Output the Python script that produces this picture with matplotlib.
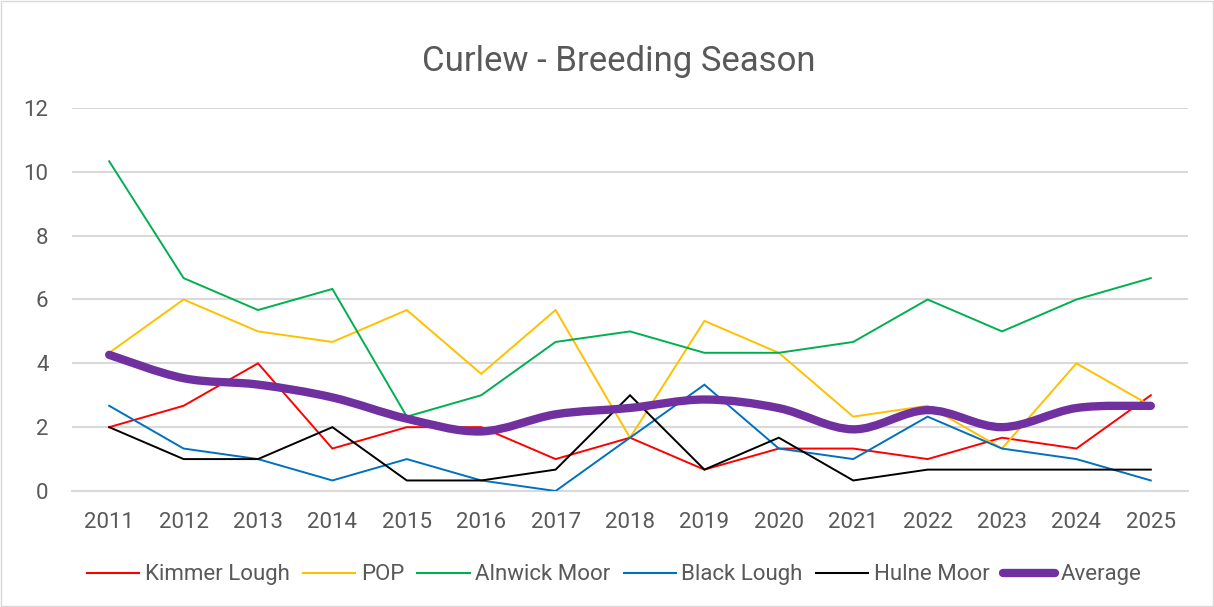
import numpy as np
import matplotlib
matplotlib.use('Agg')
import matplotlib.pyplot as plt
from matplotlib.path import Path
from matplotlib.patches import PathPatch
from matplotlib.lines import Line2D

plt.rcParams['font.family'] = ['Roboto', 'DejaVu Sans']

# Data
years = ['2011', '2012', '2013', '2014', '2015', '2016', '2017', '2018',
         '2019', '2020', '2021', '2022', '2023', '2024', '2025']
kimmer = [2, 2.67, 4, 1.33, 2, 2, 1, 1.67, 0.67, 1.33, 1.33, 1, 1.67, 1.33, 3]
pop = [4.33, 6, 5, 4.67, 5.67, 3.67, 5.67, 1.67, 5.33, 4.33, 2.33, 2.67, 1.33, 4, 2.67]
alnwick = [10.33, 6.67, 5.67, 6.33, 2.33, 3, 4.67, 5, 4.33, 4.33, 4.67, 6, 5, 6, 6.67]
black_lough = [2.67, 1.33, 1, 0.33, 1, 0.33, 0, 1.67, 3.33, 1.33, 1, 2.33, 1.33, 1, 0.33]
hulne = [2, 1, 1, 2, 0.33, 0.33, 0.67, 3, 0.67, 1.67, 0.33, 0.67, 0.67, 0.67, 0.67]

series = [
    ('Kimmer Lough', kimmer, '#FF0000'),
    ('POP', pop, '#FFC000'),
    ('Alnwick Moor', alnwick, '#00B050'),
    ('Black Lough', black_lough, '#0070C0'),
    ('Hulne Moor', hulne, '#000000'),
]
average = np.mean([kimmer, pop, alnwick, black_lough, hulne], axis=0)

text_col = '#595959'
grid_col = '#D9D9D9'

fig = plt.figure(figsize=(12.14, 6.07), dpi=100)
ax = fig.add_axes([0.0593, 0.1911, 0.9193, 0.631])

x = np.arange(len(years))
for name, vals, col in series:
    ax.plot(x, vals, color=col, lw=1.4, solid_joinstyle='miter', zorder=3)

# smoothed average line (Excel-style Bezier smoothing)
pts = np.column_stack([x, average])
verts = [pts[0]]
codes = [Path.MOVETO]
n = len(pts)
for i in range(n - 1):
    p0 = pts[i - 1] if i > 0 else pts[i]
    p1 = pts[i]
    p2 = pts[i + 1]
    p3 = pts[i + 2] if i + 2 < n else pts[i + 1]
    c1 = p1 + (p2 - p0) / 6
    c2 = p2 - (p3 - p1) / 6
    verts += [c1, c2, p2]
    codes += [Path.CURVE4] * 3
ax.add_patch(PathPatch(Path(verts, codes), fill=False, edgecolor='#7030A0',
                       lw=6, capstyle='round', zorder=4))

ax.set_xlim(-0.5, len(years) - 0.5)
ax.set_ylim(0, 12)
ax.set_yticks(range(0, 13, 2))
ax.set_xticks(x)
ax.set_xticklabels(years)
ax.yaxis.grid(True, color=grid_col, lw=1.5)
ax.set_axisbelow(True)
for s in ['top', 'right', 'left']:
    ax.spines[s].set_visible(False)
ax.spines['bottom'].set_color(grid_col)
ax.spines['bottom'].set_linewidth(1.5)
ax.tick_params(axis='both', length=0, labelsize=16, colors=text_col)
ax.tick_params(axis='x', pad=15)
ax.tick_params(axis='y', pad=17)

fig.suptitle('Curlew - Breeding Season', x=0.51, y=0.898, fontsize=25,
             color=text_col, va='center')

handles = [Line2D([], [], color=c, lw=1.5) for _, _, c in series]
handles.append(Line2D([], [], color='#7030A0', lw=6, solid_capstyle='round'))
labels = [s[0] for s in series] + ['Average']
fig.legend(handles, labels, loc='center', bbox_to_anchor=(0.506, 0.053), ncol=6,
           frameon=False, fontsize=16, labelcolor=text_col, handlelength=2.35,
           handletextpad=0.25, columnspacing=0.6)

# chart border
fig.patches.append(plt.Rectangle((0.001, 0.001), 0.998, 0.998, transform=fig.transFigure,
                                 fill=False, edgecolor=grid_col, lw=1))

fig.savefig('out.png', dpi=100)
